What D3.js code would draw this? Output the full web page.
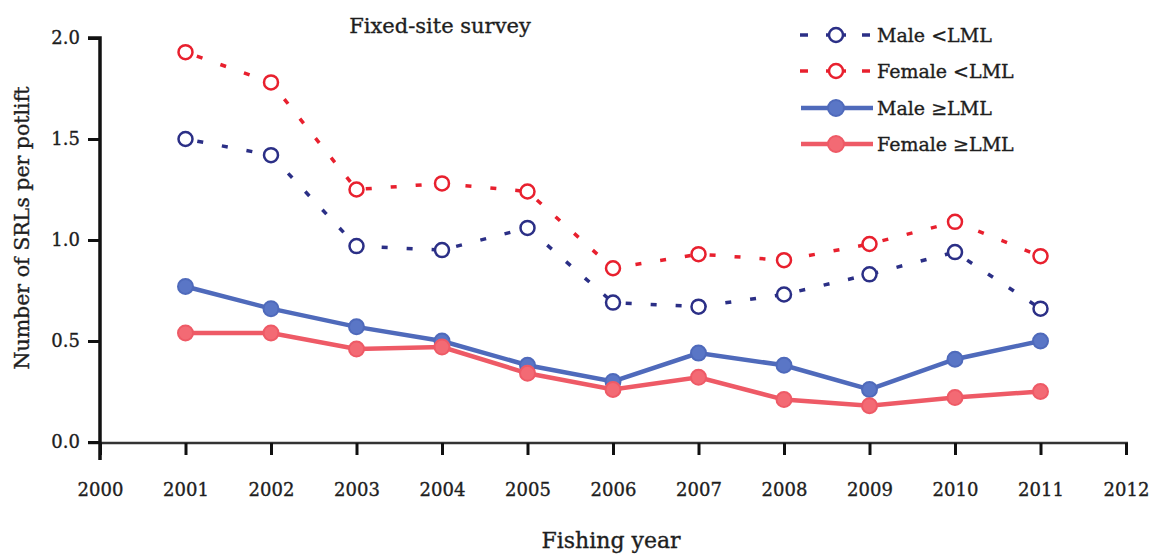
<!DOCTYPE html>
<html><head><meta charset="utf-8">
<script src="https://cdn.jsdelivr.net/npm/d3@7"></script>
<style>
html,body{margin:0;padding:0;background:#fff;}
svg text{font-family:"DejaVu Serif","Liberation Serif",serif;fill:#1e1e1e;stroke:#1e1e1e;stroke-width:0.35px;}
</style></head>
<body><svg id="c" width="1151" height="559"></svg>
<script>
const years = [2001,2002,2003,2004,2005,2006,2007,2008,2009,2010,2011];
const xTicks = [2000,2001,2002,2003,2004,2005,2006,2007,2008,2009,2010,2011,2012];
const yTicks = [0.0,0.5,1.0,1.5,2.0];
const maleBelow   = [1.50,1.42,0.97,0.95,1.06,0.69,0.67,0.73,0.83,0.94,0.66];
const femaleBelow = [1.93,1.78,1.25,1.28,1.24,0.86,0.93,0.90,0.98,1.09,0.92];
const maleAbove   = [0.77,0.66,0.57,0.50,0.38,0.30,0.44,0.38,0.26,0.41,0.50];
const femaleAbove = [0.54,0.54,0.46,0.47,0.34,0.26,0.32,0.21,0.18,0.22,0.25];
const seriesNames = ["Male <LML","Female <LML","Male \u2265LML","Female \u2265LML"];

const svg = d3.select("#c");
const x = d3.scaleLinear().domain([2000,2012]).range([100,1126]);
const y = d3.scaleLinear().domain([0,2]).range([442,38]);

const series = [
  {name:seriesNames[0], vals:maleBelow, color:"#2b2f86", dashed:true},
  {name:seriesNames[1], vals:femaleBelow, color:"#e8202e", dashed:true},
  {name:seriesNames[2], vals:maleAbove, color:"#4f6abb", fill:"#5a76c6", dashed:false},
  {name:seriesNames[3], vals:femaleAbove, color:"#ee5a66", fill:"#f36a74", dashed:false}
];

// axes
const xAxis = d3.axisBottom(x).tickValues(xTicks).tickFormat(d3.format("d")).tickSize(12).tickPadding(28);
const gx = svg.append("g").attr("transform","translate(0,443)").call(xAxis);
gx.select(".domain").attr("d","M88,0H1128").attr("stroke","#333").attr("stroke-width",2.5);
gx.selectAll(".tick line").attr("stroke","#111").attr("stroke-width",3);
gx.selectAll(".tick text").attr("font-size",18).style("font-family","DejaVu Serif");

const yAxis = d3.axisLeft(y).tickValues(yTicks).tickFormat(d3.format(".1f")).tickSize(12).tickPadding(8);
const gy = svg.append("g").attr("transform","translate(100,0)").call(yAxis);
gy.select(".domain").attr("d","M-12,38H0V460").attr("stroke","#111").attr("stroke-width",3.5).attr("fill","none");
gy.selectAll(".tick line").attr("stroke","#111").attr("stroke-width",3);
gy.selectAll(".tick text").attr("font-size",18).style("font-family","DejaVu Serif");

// lines
const line = d3.line().x((d,i)=>x(years[i])).y(d=>y(d));
series.forEach(s=>{
  svg.append("path").datum(s.vals).attr("d",line).attr("fill","none")
    .attr("stroke",s.color).attr("stroke-width",s.dashed?3.5:4.5)
    .attr("stroke-dasharray",s.dashed?"6,19":null).attr("stroke-dashoffset",s.dashed?-12:0);
  svg.append("g").selectAll("circle").data(s.vals).join("circle")
    .attr("cx",(d,i)=>x(years[i])).attr("cy",d=>y(d))
    .attr("r",s.dashed?7:7.5)
    .attr("fill",s.dashed?"#fff":s.fill)
    .attr("stroke",s.color).attr("stroke-width",s.dashed?2.5:2);
});

// legend
const leg = svg.append("g");
const legY = [35,71,108,144];
series.forEach((s,i)=>{
  const g = leg.append("g").attr("transform",`translate(0,${legY[i]})`);
  if(s.dashed){
    [[800,808],[826,830],[842,846],[862,870]].forEach(p=>{
      g.append("line").attr("x1",p[0]).attr("x2",p[1]).attr("y1",0).attr("y2",0)
        .attr("stroke",s.color).attr("stroke-width",3.5);
    });
    g.append("circle").attr("cx",836).attr("cy",0).attr("r",7).attr("fill","#fff").attr("stroke",s.color).attr("stroke-width",2.5);
  } else {
    g.append("line").attr("x1",801).attr("x2",873).attr("y1",0).attr("y2",0).attr("stroke",s.color).attr("stroke-width",4.5);
    g.append("circle").attr("cx",836).attr("cy",0).attr("r",8).attr("fill",s.fill).attr("stroke",s.color).attr("stroke-width",2);
  }
  g.append("text").attr("x",877).attr("y",0).attr("dy","0.35em").attr("font-size",19).text(s.name);
});

// title and axis labels
svg.append("text").attr("x",440).attr("y",26).attr("dy","0.35em").attr("text-anchor","middle").attr("font-size",21).text("Fixed-site survey");
svg.append("text").attr("x",611).attr("y",540).attr("dy","0.35em").attr("text-anchor","middle").attr("font-size",22).text("Fishing year");
svg.append("text").attr("transform","translate(22,228) rotate(-90)").attr("dy","0.35em").attr("text-anchor","middle").attr("font-size",20.5).text("Number of SRLs per potlift");
</script></body></html>
